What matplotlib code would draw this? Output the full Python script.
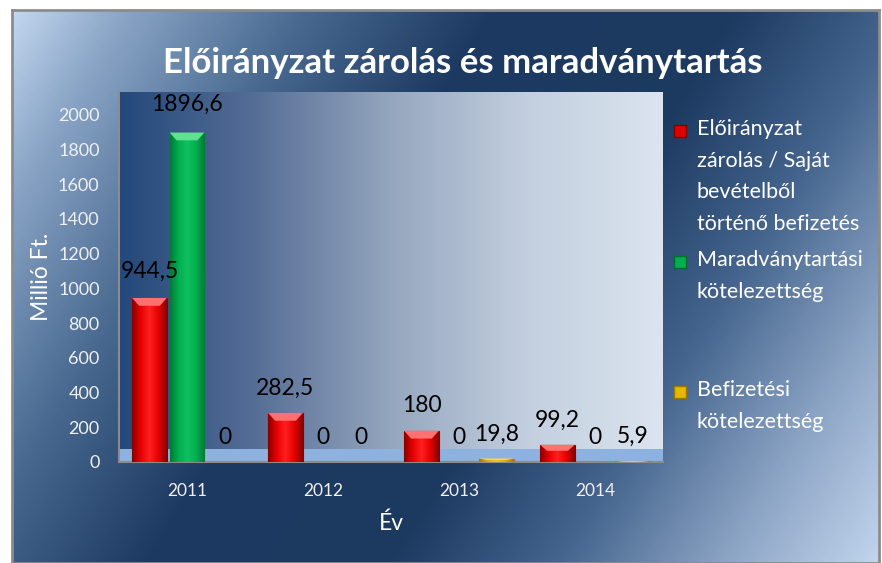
import numpy as np
import matplotlib
matplotlib.use("Agg")
import matplotlib.pyplot as plt
from matplotlib.colors import LinearSegmentedColormap
from matplotlib.patches import Rectangle

plt.rcParams['font.family'] = ['Lato', 'DejaVu Sans']

# ---- data ----
years = ["2011", "2012", "2013", "2014"]
zarolas = [944.5, 282.5, 180, 99.2]
maradvany = [1896.6, 0, 0, 0]
befizetes = [0, 0, 19.8, 5.9]
series_labels = ["Előirányzat\nzárolás / Saját\nbevételből\ntörténő befizetés",
                 "Maradványtartási\nkötelezettség",
                 "Befizetési\nkötelezettség"]
yticks = [0, 200, 400, 600, 800, 1000, 1200, 1400, 1600, 1800, 2000]
title = "Előirányzat zárolás és maradványtartás"

W, H = 882, 563
fig = plt.figure(figsize=(W / 100, H / 100), dpi=100)
fig.patch.set_facecolor("white")

# ---- chart background (diagonal gradient) ----
fl, fr, ft, fb = 12, 879, 10, 563
bg = fig.add_axes([fl / W, 1 - fb / H, (fr - fl) / W, (fb - ft) / H], zorder=0)
nx, ny = 300, 200
xx, yy = np.meshgrid(np.linspace(fl, fr, nx), np.linspace(ft, fb, ny))
t = (480 * xx + 300 * (yy - ft)) / (480 * fr + 300 * (fb - ft))
bg_cmap = LinearSegmentedColormap.from_list("bg", [
    (0.0, "#c8dcf3"), (0.10, "#8aa5c6"), (0.25, "#48688f"),
    (0.40, "#1d3a62"), (0.60, "#1c3960"), (0.74, "#45658e"),
    (0.88, "#8ea6c6"), (1.0, "#c0d4ec")])
bg.imshow(t, cmap=bg_cmap, aspect="auto", extent=[0, 1, 0, 1], origin="upper",
          vmin=0, vmax=1)
bg.set_xlim(0, 1); bg.set_ylim(0, 1)
bg.set_xticks([]); bg.set_yticks([])
for s in bg.spines.values():
    s.set_color("#8c8c8c"); s.set_linewidth(2)

# ---- plot area ----
pl, pr, pt, pb = 119, 663, 92, 462
ax = fig.add_axes([pl / W, 1 - pb / H, (pr - pl) / W, (pb - pt) / H], zorder=2)
ax.set_xlim(0, 4)
ymax = 2130
ax.set_ylim(0, ymax)
pa_cmap = LinearSegmentedColormap.from_list("pa", [
    (0.0, "#23487a"), (0.25, "#566e96"), (0.5, "#95a6be"),
    (0.75, "#c3cfdf"), (1.0, "#dbe4ef")])
ax.imshow(np.linspace(0, 1, 256)[None, :], cmap=pa_cmap, aspect="auto",
          extent=[0, 4, 0, ymax], zorder=0)
# floor
ax.add_patch(Rectangle((0, 0), 4, 75, facecolor="#8eb2df", edgecolor="none", zorder=1))

x = np.arange(len(years)) + 0.5
bw = 0.255
off = 0.276

def bar_series(vals, dx, base, dark, light, top):
    bars = ax.bar(x + dx, vals, width=bw, color=base, edgecolor=dark,
                  linewidth=0.8, zorder=3)
    grad_cmap = LinearSegmentedColormap.from_list("g", [dark, base, light, base, dark])
    for b in bars:
        h = b.get_height()
        if h <= 0:
            continue
        bx, bwid = b.get_x(), b.get_width()
        im = ax.imshow(np.linspace(0, 1, 64)[None, :], cmap=grad_cmap,
                       aspect="auto", extent=[bx, bx + bwid, 0, h], zorder=3.5)
        im.set_clip_path(b)
        # top bevel
        bev = min(h * 0.35, 45)
        ax.fill([bx, bx + bwid, bx + bwid * 0.8, bx + bwid * 0.2],
                [h, h, h - bev, h - bev], color=top, zorder=4, lw=0)
    return bars

bar_series(zarolas, -off, "#e80000", "#8a0000", "#ff2020", "#ff7070")
bar_series(maradvany, 0, "#00b050", "#007a38", "#10c060", "#60e090")
bar_series(befizetes, off, "#e0b000", "#a07c00", "#f0c810", "#ffe070")

for vals, dx in ((zarolas, -off), (maradvany, 0), (befizetes, off)):
    for xi, v in zip(x, vals):
        txt = ("%g" % v).replace(".", ",")
        ax.text(xi + dx, v + 80 + 0.012 * v, txt, ha="center", va="bottom",
                fontsize=16.5, color="black", zorder=6, clip_on=False)

ax.set_yticks(yticks)
ax.set_yticklabels([str(v) for v in yticks])
ax.set_xticks(x)
ax.set_xticklabels(years)
ax.tick_params(axis="y", colors="white", labelsize=13, length=0, pad=14)
ax.tick_params(axis="x", colors="white", labelsize=12.5, length=0, pad=15)
for lab in ax.get_yticklabels() + ax.get_xticklabels():
    lab.set_color("#f0f0f0")
for s in ("top", "right"):
    ax.spines[s].set_visible(False)
ax.spines["left"].set_color("#8c8c8c")
ax.spines["bottom"].set_color("#8c8c8c")
ax.spines["left"].set_linewidth(1.5)
ax.spines["bottom"].set_linewidth(1.5)

ax.set_ylabel("Millió Ft.", color="white", fontsize=16.5, labelpad=4)
ax.set_xlabel("Év", color="white", fontsize=16.5, labelpad=10)

fig.text(463 / W, 1 - 63 / H, title, ha="center", va="center",
         fontsize=25, fontweight="bold", color="white", zorder=5)

# ---- legend ----
leg_colors = [("#e00000", "#800000"), ("#00b050", "#006a30"), ("#e8b800", "#9a7800")]
leg_y = [131, 262, 392]
for (fc, ec), ly, lab in zip(leg_colors, leg_y, series_labels):
    fig.patches.append(Rectangle(((680 - 6) / W, 1 - (ly + 6) / H), 12 / W, 12 / H,
                                 transform=fig.transFigure, facecolor=fc,
                                 edgecolor=ec, linewidth=1, zorder=5))
    fig.text(697 / W, 1 - (ly - 12) / H, lab, ha="left", va="top",
             fontsize=15.5, color="white", linespacing=1.72, zorder=5)

fig.savefig("out.png", dpi=100, facecolor="white")
